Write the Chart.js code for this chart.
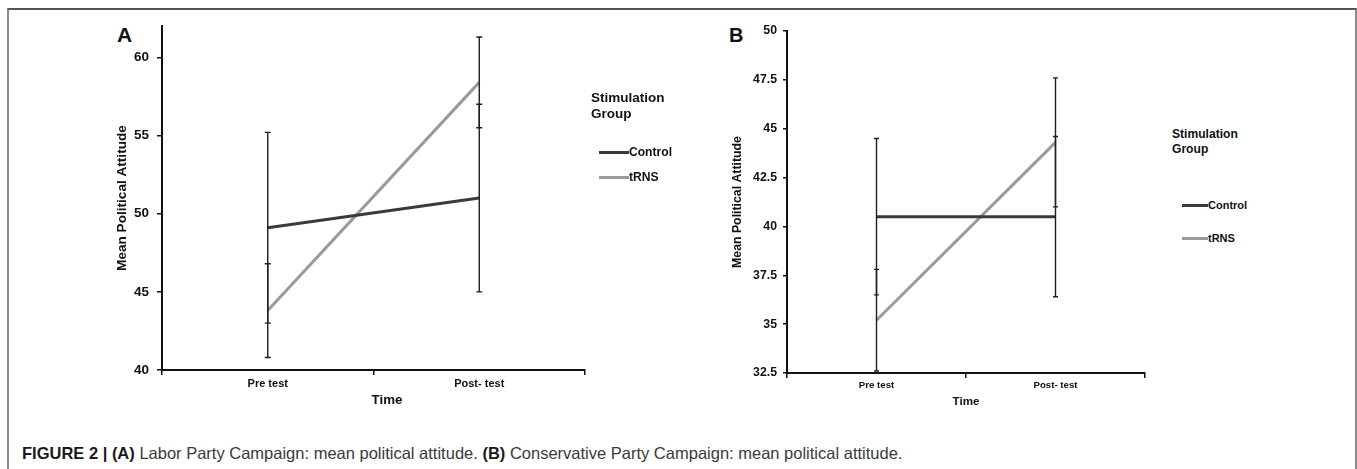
<!DOCTYPE html>
<html>
<head>
    <title>Figure 2 - Mean political attitude</title>
    <script src="https://cdn.jsdelivr.net/npm/chart.js"></script>
    <style>
        body {
            margin: 0;
            width: 1357px;
            height: 469px;
            background: #fff;
            font-family: 'Liberation Sans', Arial, sans-serif;
            position: relative;
            overflow: hidden;
        }
        .frame {
            position: absolute;
            left: 7px;
            top: 8px;
            width: 1346px;
            height: 480px;
            border-top: 2px solid #555;
            border-left: 2px solid #8a8a8a;
            border-right: 2px solid #8a8a8a;
        }
        .box { position: absolute; }
        .panel-tag {
            position: absolute;
            font-weight: bold;
            line-height: 1;
            color: #111;
        }
        .xtitle {
            position: absolute;
            font-weight: bold;
            line-height: 1;
            color: #111;
            transform: translateX(-50%);
        }
        .legend-title {
            position: absolute;
            font-weight: bold;
            color: #111;
        }
        .legend-item {
            position: absolute;
            display: flex;
            align-items: center;
            font-weight: bold;
            color: #111;
            line-height: 1;
        }
        .legend-item span.swatch {
            display: inline-block;
            height: 3px;
        }
        .caption {
            position: absolute;
            left: 22px;
            top: 445px;
            font-size: 16.5px;
            line-height: 1;
            color: #3a3a3a;
            white-space: nowrap;
        }
        .caption b { color: #1a1a1a; }
    </style>
</head>
<body>
    <div class="frame"></div>

    <!-- Panel A -->
    <div class="panel-tag" style="left:117px; top:24px; font-size:21px;">A</div>
    <div class="box" style="left:95px; top:10px;"><canvas id="chartA" width="505" height="415"></canvas></div>
    <div class="xtitle" style="left:387px; top:393px; font-size:13.3px;">Time</div>
    <div class="legend-title" style="left:591px; top:90px; font-size:13.5px; line-height:16px;">Stimulation<br>Group</div>
    <div class="legend-item" style="left:599px; top:146px; font-size:12.1px;"><span class="swatch" style="width:30px; background:#3a3a3a;"></span>Control</div>
    <div class="legend-item" style="left:599px; top:171px; font-size:12.1px;"><span class="swatch" style="width:30px; background:#9a9a9a;"></span>tRNS</div>

    <!-- Panel B -->
    <div class="panel-tag" style="left:729px; top:25px; font-size:20px;">B</div>
    <div class="box" style="left:715px; top:15px;"><canvas id="chartB" width="445" height="410"></canvas></div>
    <div class="xtitle" style="left:966px; top:395px; font-size:11.6px;">Time</div>
    <div class="legend-title" style="left:1172px; top:127px; font-size:12.1px; line-height:15px;">Stimulation<br>Group</div>
    <div class="legend-item" style="left:1182px; top:200px; font-size:11px;"><span class="swatch" style="width:26px; background:#3a3a3a;"></span>Control</div>
    <div class="legend-item" style="left:1182px; top:233px; font-size:11px;"><span class="swatch" style="width:26px; background:#9a9a9a;"></span>tRNS</div>

    <div class="caption"><b>FIGURE 2 | (A)</b> Labor Party Campaign: mean political attitude. <b>(B)</b> Conservative Party Campaign: mean political attitude.</div>

    <script>
        // categories
        const timeLabels = ['Pre test', 'Post- test'];

        // (A) Labor Party Campaign
        const laborControl = [49.1, 51.0];
        const laborControlErr = [6.1, 6.0];
        const laborTrns = [43.8, 58.4];
        const laborTrnsErr = [3.0, 2.9];
        const laborTicks = [40, 45, 50, 55, 60];

        // (B) Conservative Party Campaign
        const consControl = [40.5, 40.5];
        const consControlErr = [4.0, 4.1];
        const consTrns = [35.2, 44.3];
        const consTrnsErr = [2.6, 3.3];
        const consTicks = [32.5, 35, 37.5, 40, 42.5, 45, 47.5, 50];

        const FONT = "'Liberation Sans', Arial, sans-serif";

        // draws the +/- error bars with the chart's own scales
        const errorBars = {
            id: 'errorBars',
            afterDatasetsDraw(chart, args, opts) {
                const {ctx, scales: {x, y}} = chart;
                ctx.save();
                ctx.strokeStyle = '#1e1e1e';
                ctx.lineWidth = 1.4;
                chart.data.datasets.forEach(ds => {
                    ds.data.forEach((v, i) => {
                        const px = x.getPixelForValue(i);
                        const hi = y.getPixelForValue(v + ds.errors[i]);
                        const lo = y.getPixelForValue(v - ds.errors[i]);
                        ctx.beginPath();
                        ctx.moveTo(px, hi); ctx.lineTo(px, lo);
                        ctx.moveTo(px - opts.cap, hi); ctx.lineTo(px + opts.cap, hi);
                        ctx.moveTo(px - opts.cap, lo); ctx.lineTo(px + opts.cap, lo);
                        ctx.stroke();
                    });
                });
                ctx.restore();
            }
        };

        function makeChart(id, cfg) {
            return new Chart(document.getElementById(id), {
                type: 'line',
                data: {
                    labels: timeLabels,
                    datasets: [{
                        label: 'Control',
                        data: cfg.control,
                        errors: cfg.controlErr,
                        borderColor: '#3a3a3a',
                        borderWidth: 3
                    }, {
                        label: 'tRNS',
                        data: cfg.trns,
                        errors: cfg.trnsErr,
                        borderColor: '#9a9a9a',
                        borderWidth: 3
                    }]
                },
                plugins: [errorBars],
                options: {
                    responsive: false,
                    animation: false,
                    layout: {padding: {top: cfg.padTop, right: 15, left: 0, bottom: 0}},
                    elements: {point: {radius: 0}, line: {tension: 0}},
                    plugins: {
                        legend: {display: false},
                        tooltip: {enabled: false},
                        errorBars: {cap: cfg.cap}
                    },
                    scales: {
                        x: {
                            offset: true,
                            grid: {offset: true, drawOnChartArea: false, color: '#111', lineWidth: 1.5, tickLength: 5},
                            border: {color: '#111', width: 2},
                            ticks: {color: '#111', padding: 2, font: {family: FONT, size: cfg.xFont, weight: 'bold'}},
                            afterFit(s) { s.height = cfg.xHeight; }
                        },
                        y: {
                            min: cfg.min,
                            max: cfg.max,
                            grid: {drawOnChartArea: false, color: '#111', lineWidth: 1.5, tickLength: cfg.tickLen},
                            border: {color: '#111', width: 2},
                            ticks: {
                                stepSize: cfg.step,
                                color: '#111',
                                padding: cfg.tickPad,
                                font: {family: FONT, size: cfg.yFont, weight: 'bold'}
                            },
                            afterBuildTicks(s) {
                                s.ticks = cfg.ticks.map(v => ({value: v}));
                            },
                            title: {
                                display: true,
                                text: 'Mean Political Attitude',
                                color: '#111',
                                font: {family: FONT, size: cfg.titleFont, weight: 'bold'},
                                padding: {top: cfg.titlePad, bottom: 0}
                            },
                            afterFit(s) { s.width = cfg.yWidth; }
                        }
                    }
                }
            });
        }

        makeChart('chartA', {
            control: laborControl, controlErr: laborControlErr,
            trns: laborTrns, trnsErr: laborTrnsErr,
            ticks: laborTicks, min: 40, max: 62, step: 5,
            padTop: 15, yWidth: 67, xHeight: 55,
            xFont: 11, yFont: 13.5, titleFont: 13.6, titlePad: 18.8,
            tickLen: 5, tickPad: 8, cap: 3
        });

        makeChart('chartB', {
            control: consControl, controlErr: consControlErr,
            trns: consTrns, trnsErr: consTrnsErr,
            ticks: consTicks, min: 32.5, max: 50, step: 2.5,
            padTop: 16, yWidth: 72, xHeight: 52,
            xFont: 9.7, yFont: 12.3, titleFont: 12.3, titlePad: 15.6,
            tickLen: 4, tickPad: 6, cap: 2.5
        });
    </script>
</body>
</html>
